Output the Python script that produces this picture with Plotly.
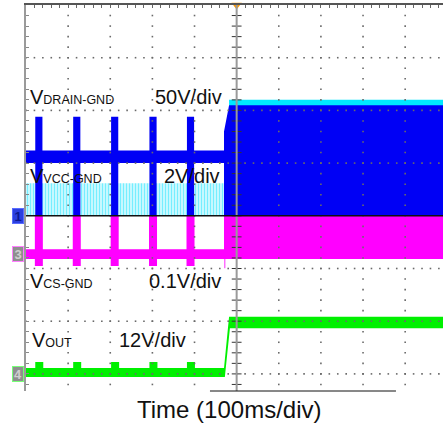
import numpy as np
import plotly.graph_objects as go

# ---------------- scope settings ----------------
T_VIEW_MS = 989.8            # visible time span (10 div = 1000 ms, right edge cropped)
T_END_MS = 1000
Y_VIEW_DIV = [-3.3245, 4.0]  # visible vertical span in divisions

channel_labels = ["V<span style='font-size:12.5px'>DRAIN-GND</span>",
                  "V<span style='font-size:12.5px'>VCC-GND</span>",
                  "V<span style='font-size:12.5px'>CS-GND</span>",
                  "V<span style='font-size:12.5px'>OUT</span>"]
scale_labels = ["50V/div", "2V/div", "0.1V/div", "12V/div"]
volts_per_div = [50, 2, 0.1, 12]
ground_div = [0.0, 0.0, -0.734, -3.0]
channel_tags = ["1", "", "3", "4"]
time_label = "Time (100ms/div)"

# ---------------- burst-mode timing (ms) ----------------
burst_start_ms = [22, 112, 202, 293, 382]
burst_width_ms = 17
run_start_ms = 470
run_settled_ms = 482

drain_idle_v = [50, 62]
drain_burst_v = [0, 94]
drain_run_v = [0, 105]
drain_step_v = 80

vcc_idle_v = [0, 1.24]
vcc_run_v = [0, 4.4]

cs_idle_v = [-0.0085, 0.010]
cs_burst_v = [-0.022, 0.073]
cs_run_v = [-0.0085, 0.073]
cs_step_dip_v = -0.026

out_idle_v = [-0.68, 1.37]
out_burst_v = [-0.68, 2.7]
out_run_v = [10.4, 13.0]

# ---------------- helpers ----------------
def to_div(ch, v):
    return ground_div[ch] + v / volts_per_div[ch]


def rect(t0, t1, lohi):
    lo, hi = lohi
    return [(t0, lo), (t1, lo), (t1, hi), (t0, hi), (t0, lo)]


def band_trace(ch, polys, color, pattern=None):
    xs, ys = [], []
    for pts in polys:
        for t, v in pts:
            xs.append(t)
            ys.append(to_div(ch, v))
        xs.append(None)
        ys.append(None)
    kw = dict(fillpattern=pattern) if pattern else {}
    return go.Scatter(x=xs, y=ys, mode="lines", fill="toself", fillcolor=color,
                      line=dict(width=0, color=color), hoverinfo="skip",
                      showlegend=False, **kw)


fig = go.Figure()

# CH2 VCC (cyan) - bottom layer, streaky (noisy) before start-up
cyan_polys = [rect(0, run_start_ms, vcc_idle_v)]
fig.add_trace(band_trace(1, cyan_polys, "rgb(150,242,255)",
                         pattern=dict(shape="|", fgcolor="rgb(20,225,255)",
                                      bgcolor="rgb(215,250,255)", size=3, solidity=0.45)))
fig.add_trace(band_trace(1, [rect(run_settled_ms, T_END_MS, vcc_run_v)], "rgb(0,232,255)"))

# CH3 current sense (magenta)
mag_polys = [rect(0, run_start_ms, cs_idle_v)]
mag_polys += [rect(t - 1, t + burst_width_ms + 1, cs_burst_v) for t in burst_start_ms]
mag_polys += [rect(run_start_ms, T_END_MS, cs_run_v),
              rect(run_start_ms + 1, run_start_ms + 3, [cs_step_dip_v, cs_run_v[1]])]
fig.add_trace(band_trace(2, mag_polys, "rgb(255,0,255)"))

# CH1 drain (blue)
blue_polys = [rect(0, run_start_ms, drain_idle_v)]
blue_polys += [rect(t, t + burst_width_ms, drain_burst_v) for t in burst_start_ms]
blue_polys += [[(run_start_ms, drain_run_v[0]), (T_END_MS, drain_run_v[0]),
                (T_END_MS, drain_run_v[1]), (run_settled_ms, drain_run_v[1]),
                (run_start_ms, drain_step_v), (run_start_ms, drain_run_v[0])]]
fig.add_trace(band_trace(0, blue_polys, "rgb(0,0,245)"))

# CH4 output (green)
green_polys = [rect(0, run_start_ms + 2, out_idle_v)]
green_polys += [rect(t, t + burst_width_ms + 2, out_burst_v) for t in burst_start_ms]
green_polys += [[(run_start_ms + 2, out_idle_v[0]), (run_settled_ms + 2, out_run_v[0]),
                 (T_END_MS, out_run_v[0]), (T_END_MS, out_run_v[1]),
                 (run_settled_ms, out_run_v[1]), (run_start_ms, out_idle_v[1]),
                 (run_start_ms + 2, out_idle_v[0])]]
fig.add_trace(band_trace(3, green_polys, "rgb(0,240,0)"))

# ---------------- graticule (drawn above the traces, like the scope) ----------------
div_t = np.arange(0, 1000, 100)
minor_t = np.arange(0, 1000, 20)
div_y = np.arange(-3, 4, 1)
minor_y = np.arange(-16, 20) * 0.2

gx, gy = [], []
for t in div_t:
    if t in (0, 500):
        continue
    gx += [t] * len(minor_y)
    gy += list(minor_y)
for yv in div_y:
    if yv == 0:
        continue
    gx += list(minor_t)
    gy += [yv] * len(minor_t)
fig.add_trace(go.Scatter(x=gx, y=gy, mode="markers", hoverinfo="skip", showlegend=False,
                         marker=dict(symbol="square", size=1.6, color="#6a6a6a",
                                     line=dict(width=0))))

# centre-line tick marks
fig.add_trace(go.Scatter(x=[500] * len(minor_y), y=minor_y, mode="markers", hoverinfo="skip",
                         showlegend=False,
                         marker=dict(symbol="line-ew", size=7,
                                     line=dict(width=1, color="#333333"))))

shapes = [
    dict(type="line", xref="x", yref="paper", x0=500, x1=500, y0=0, y1=1,
         line=dict(color="#9a9a9a", width=2), layer="above"),
    dict(type="line", xref="paper", yref="y", x0=0, x1=1, y0=0, y1=0,
         line=dict(color="#111111", width=1.5), layer="above"),
    dict(type="line", xref="x", yref="paper", x0=436.7, x1=878.2, y0=0, y1=0,
         line=dict(color="#111111", width=1), layer="above"),
]

# trigger marker
fig.add_trace(go.Scatter(x=[500], y=[Y_VIEW_DIV[1]], mode="markers", hoverinfo="skip",
                         showlegend=False, cliponaxis=False,
                         marker=dict(symbol="triangle-down", size=9, color="#ff9a00",
                                     line=dict(width=0))))

FONT = "Liberation Sans, Arial, sans-serif"
ann = []
label_pos = [(4.7, 2.25), (4.7, 0.755), (4.7, -1.245), (9.5, -2.36)]
scale_pos = [(301, 2.25), (323, 0.755), (287, -1.245), (216, -2.36)]
for i in range(4):
    ann.append(dict(x=label_pos[i][0], y=label_pos[i][1], xref="x", yref="y",
                    text=channel_labels[i], showarrow=False, xanchor="left",
                    yanchor="middle", font=dict(family=FONT, size=20, color="#111")))
    ann.append(dict(x=scale_pos[i][0], y=scale_pos[i][1], xref="x", yref="y",
                    text=scale_labels[i], showarrow=False, xanchor="left",
                    yanchor="middle", font=dict(family=FONT, size=20, color="#111")))

tag_style = [("#2b3fe0", "#5a6cff", "#0c1890"), None,
             ("#8e8e8e", "#ff80ff", "#cfcfcf"), ("#8e8e8e", "#77ff77", "#cfcfcf")]
for i in range(4):
    if not channel_tags[i]:
        continue
    bg, bd, fc = tag_style[i]
    ann.append(dict(x=0, y=ground_div[i], xref="paper", yref="y", text="<b>%s</b>" % channel_tags[i],
                    showarrow=False, xanchor="right", yanchor="middle", xshift=-2,
                    bgcolor=bg, bordercolor=bd, borderwidth=1, borderpad=0,
                    width=10, height=14, font=dict(family=FONT, size=13, color=fc)))

ann.append(dict(x=0.487, y=-0.047, xref="paper", yref="paper", text=time_label,
                showarrow=False, xanchor="center", yanchor="middle",
                font=dict(family=FONT, size=24, color="#111")))

fig.update_layout(
    width=443, height=425,
    margin=dict(l=26, r=0, t=5, b=34, pad=0),
    paper_bgcolor="white", plot_bgcolor="white",
    showlegend=False,
    shapes=shapes, annotations=ann,
    xaxis=dict(range=[0, T_VIEW_MS], side="top", showgrid=False, zeroline=False,
               showline=True, linecolor="#555555", linewidth=1.5,
               ticks="inside", ticklen=3, tickcolor="#666666", tick0=0, dtick=20,
               showticklabels=False, layer="above traces", fixedrange=True),
    yaxis=dict(range=Y_VIEW_DIV, showgrid=False, zeroline=False,
               showline=True, linecolor="#9a9a9a", linewidth=1.5,
               ticks="inside", ticklen=3, tickcolor="#888888", tick0=0, dtick=0.2,
               showticklabels=False, layer="above traces", fixedrange=True),
)

fig.write_html("out.html", config={"displayModeBar": False},
               post_script="document.body.style.margin='0px';document.body.style.overflow='hidden';")
